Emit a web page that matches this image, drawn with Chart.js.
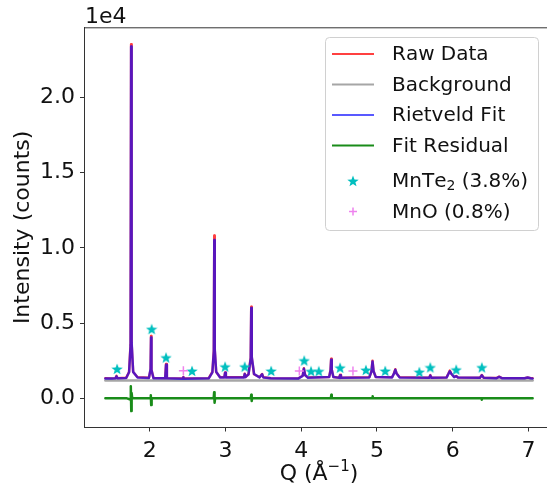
<!DOCTYPE html>
<html>
<head>
<meta charset="utf-8">
<script src="https://cdn.jsdelivr.net/npm/chart.js@4.4.1/dist/chart.umd.min.js"></script>
<style>
    html, body { margin: 0; padding: 0; background: #ffffff; overflow: hidden; }
    #wrap { width: 560px; height: 486px; }
</style>
</head>
<body>
<div id="wrap"><canvas id="xrd" width="560" height="486"></canvas></div>
<script>
// ============================================
// POWDER PATTERN + RIETVELD REFINEMENT PLOT
// ============================================

// Q grid (1/Angstrom) shared by the raw data and the fit
const qGrid = [
    1.415, 1.50, 1.548, 1.562, 1.576, 1.69, 1.728, 1.748, 1.755, 1.762,
    1.782, 1.84, 1.99, 2.012, 2.018, 2.024, 2.05, 2.205, 2.216, 2.227,
    2.436, 2.445, 2.454, 2.78, 2.828, 2.847, 2.853, 2.859, 2.878, 2.93,
    2.986, 2.996, 3.006, 3.245, 3.255, 3.265, 3.305, 3.334, 3.341, 3.348,
    3.378, 3.45, 3.484, 3.50, 3.60, 3.96, 4.02, 4.036, 4.052, 4.09,
    4.37, 4.388, 4.396, 4.404, 4.425, 4.503, 4.514, 4.525, 4.90, 4.928,
    4.942, 4.956, 4.985, 5.20, 5.225, 5.243, 5.26, 5.30, 5.69, 5.705,
    5.72, 5.92, 5.945, 5.962, 5.98, 6.02, 6.047, 6.07, 6.36, 6.385,
    6.41, 6.58, 6.614, 6.65, 6.95, 6.99, 7.03, 7.056
];

// measured intensity (counts)
const rawCounts = [
    1330, 1320, 1340, 1490, 1340, 1360, 1750, 3600, 23550, 3600,
    1750, 1400, 1360, 1900, 4150, 1900, 1350, 1340, 2280, 1340,
    1310, 1420, 1310, 1340, 1750, 3200, 10820, 3200, 1750, 1400,
    1400, 1720, 1400, 1400, 1640, 1420, 1600, 2700, 6090, 2700,
    1600, 1400, 1620, 1400, 1340, 1320, 1500, 2000, 1550, 1380,
    1420, 1900, 2630, 1900, 1420, 1370, 1560, 1370, 1400, 1800,
    2500, 1800, 1420, 1400, 1650, 1930, 1650, 1400, 1370, 1540,
    1370, 1390, 1650, 1840, 1650, 1420, 1480, 1390, 1370, 1550,
    1370, 1350, 1440, 1350, 1340, 1390, 1340, 1330
];

// calculated Rietveld profile (counts)
const fitCounts = [
    1320, 1315, 1330, 1460, 1330, 1350, 1730, 3500, 23400, 3700,
    1760, 1390, 1350, 1950, 4050, 1880, 1340, 1330, 2230, 1330,
    1305, 1400, 1305, 1330, 1730, 3100, 10530, 3300, 1770, 1390,
    1390, 1700, 1390, 1390, 1620, 1410, 1590, 2650, 6000, 2750,
    1620, 1390, 1600, 1390, 1330, 1310, 1490, 1970, 1540, 1370,
    1410, 1850, 2560, 1900, 1420, 1360, 1540, 1360, 1390, 1780,
    2450, 1800, 1410, 1390, 1640, 1900, 1650, 1390, 1360, 1520,
    1360, 1380, 1630, 1800, 1650, 1410, 1470, 1380, 1360, 1530,
    1360, 1340, 1430, 1340, 1330, 1380, 1330, 1320
];

// refined background
const backgroundQ = [1.415, 7.056];
const backgroundCounts = [1190, 1190];

// observed minus calculated
const residualQ = [
    1.415, 1.70, 1.745, 1.751, 1.757, 1.762, 1.77, 2.01, 2.015, 2.02,
    2.026, 2.845, 2.851, 2.857, 2.864, 3.335, 3.341, 3.347, 3.353, 4.392,
    4.398, 4.404, 4.938, 4.944, 4.95, 6.379, 6.385, 6.391, 7.056
];
const residualCounts = [
    0, 0, -80, 800, -850, 350, 0, 0, 200, -450,
    0, 0, 400, -290, 0, 0, 240, -180, 0, 0,
    240, 0, 0, 130, 0, 0, -90, 0, 0
];

// reflection markers
const mnte2Q = [1.57, 2.026, 2.216, 2.559, 2.996, 3.255, 3.604, 4.04, 4.13,
    4.233, 4.514, 4.855, 5.11, 5.56, 5.705, 6.047, 6.385];
const mnte2Y = [1950, 4600, 2710, 1820, 2100, 2100, 1820, 2510, 1800,
    1800, 2030, 1880, 1820, 1750, 2050, 1900, 2050];
const mnoQ = [2.445, 3.976, 4.684];
const mnoY = [1830, 1820, 1810];

// axis ticks
const xTickValues = [2, 3, 4, 5, 6, 7];
const yTickValues = [0, 5000, 10000, 15000, 20000];

const FONT = 'DejaVu Sans';
const TEXT = '#111111';

function pairs(xs, ys) {
    return xs.map((x, i) => ({ x: x, y: ys[i] }));
}

// filled five-point star used as point style
function makeStar(size, color) {
    const c = document.createElement('canvas');
    c.width = size;
    c.height = size;
    const g = c.getContext('2d');
    const r1 = size / 2, r2 = size / 2 * 0.42;
    g.beginPath();
    for (let i = 0; i < 10; i++) {
        const r = i % 2 === 0 ? r1 : r2;
        const a = -Math.PI / 2 + i * Math.PI / 5;
        const px = size / 2 + r * Math.cos(a);
        const py = size / 2 + 0.5 + r * Math.sin(a);
        if (i === 0) g.moveTo(px, py); else g.lineTo(px, py);
    }
    g.closePath();
    g.fillStyle = color;
    g.fill();
    return c;
}

const starImg = makeStar(12, '#00bfbf');

// draws text, turning unicode subscript digits into small lowered digits
function drawRich(ctx, str, x, y, size) {
    const subs = '₀₁₂₃₄₅₆₇₈₉';
    let cx = x;
    for (const ch of str) {
        const k = subs.indexOf(ch);
        if (k >= 0) {
            ctx.font = (size * 0.7) + 'px ' + FONT;
            ctx.fillText(String(k), cx, y + size * 0.22);
            cx += ctx.measureText(String(k)).width;
        } else {
            ctx.font = size + 'px ' + FONT;
            ctx.fillText(ch, cx, y);
            cx += ctx.measureText(ch).width;
        }
    }
}

// frame top, offset text, axis titles and the boxed legend
const decorations = {
    id: 'decorations',
    afterDraw(chart) {
        const ctx = chart.ctx;
        const area = chart.chartArea;
        ctx.save();

        ctx.strokeStyle = '#333333';
        ctx.lineWidth = 1;
        ctx.beginPath();
        ctx.moveTo(area.left, area.top + 0.5);
        ctx.lineTo(area.right, area.top + 0.5);
        ctx.moveTo(area.right - 0.5, area.top);
        ctx.lineTo(area.right - 0.5, area.bottom);
        ctx.stroke();

        ctx.fillStyle = TEXT;
        ctx.textBaseline = 'alphabetic';
        ctx.textAlign = 'left';
        ctx.font = '22px ' + FONT;
        ctx.fillText('1e4', 85, 23);

        // x title: Q (Å^-1)
        const part1 = 'Q (Å', sup = '−1', part2 = ')';
        ctx.font = '22px ' + FONT;
        const w1 = ctx.measureText(part1).width;
        const w3 = ctx.measureText(part2).width;
        ctx.font = '15px ' + FONT;
        const w2 = ctx.measureText(sup).width;
        const cx = (area.left + area.right) / 2;
        let x0 = cx - (w1 + w2 + w3) / 2;
        const base = 480;
        ctx.font = '22px ' + FONT;
        ctx.fillText(part1, x0, base);
        ctx.font = '15px ' + FONT;
        ctx.fillText(sup, x0 + w1, base - 9);
        ctx.font = '22px ' + FONT;
        ctx.fillText(part2, x0 + w1 + w2, base);

        // y title
        ctx.save();
        ctx.translate(23, (area.top + area.bottom) / 2);
        ctx.rotate(-Math.PI / 2);
        ctx.textAlign = 'center';
        ctx.textBaseline = 'middle';
        ctx.font = '22px ' + FONT;
        ctx.fillText('Intensity (counts)', 0, 0);
        ctx.restore();

        // legend box
        const bx = 325, by = 37, bw = 213, bh = 193;
        ctx.beginPath();
        ctx.roundRect(bx + 0.5, by + 0.5, bw, bh, 4);
        ctx.fillStyle = 'rgba(255,255,255,0.8)';
        ctx.fill();
        ctx.strokeStyle = '#d0d0d0';
        ctx.lineWidth = 1;
        ctx.stroke();

        const rows = [54, 84.5, 115, 145.5, 181, 211.5];
        chart.data.datasets.forEach((ds, i) => {
            const y = rows[i];
            if (ds.showLine === false) {
                if (ds.pointStyle === 'cross') {
                    ctx.strokeStyle = ds.borderColor;
                    ctx.lineWidth = 1.5;
                    ctx.beginPath();
                    ctx.moveTo(353 - 4, y);
                    ctx.lineTo(353 + 4, y);
                    ctx.moveTo(353, y - 4);
                    ctx.lineTo(353, y + 4);
                    ctx.stroke();
                } else {
                    ctx.drawImage(ds.pointStyle, 353 - 6, y - 6);
                }
            } else {
                ctx.strokeStyle = ds.borderColor;
                ctx.lineWidth = 2;
                ctx.beginPath();
                ctx.moveTo(332, y);
                ctx.lineTo(374, y);
                ctx.stroke();
            }
            ctx.fillStyle = TEXT;
            ctx.textBaseline = 'middle';
            drawRich(ctx, ds.label, 392, y + 1, 20);
        });

        ctx.restore();
    }
};

new Chart(document.getElementById('xrd'), {
    type: 'line',
    data: {
        datasets: [
            {
                label: 'Raw Data',
                data: pairs(qGrid, rawCounts),
                borderColor: 'rgba(255, 0, 0, 0.75)',
                borderWidth: 2.5,
                pointRadius: 0,
                order: 5
            },
            {
                label: 'Background',
                data: pairs(backgroundQ, backgroundCounts),
                borderColor: 'rgba(128, 128, 128, 0.7)',
                borderWidth: 2.5,
                pointRadius: 0,
                order: 4
            },
            {
                label: 'Rietveld Fit',
                data: pairs(qGrid, fitCounts),
                borderColor: 'rgba(0, 0, 255, 0.65)',
                borderWidth: 2.5,
                pointRadius: 0,
                order: 3
            },
            {
                label: 'Fit Residual',
                data: pairs(residualQ, residualCounts),
                borderColor: 'rgba(0, 128, 0, 0.9)',
                borderWidth: 2.5,
                pointRadius: 0,
                order: 2
            },
            {
                label: 'MnTe₂ (3.8%)',
                data: pairs(mnte2Q, mnte2Y),
                showLine: false,
                pointStyle: starImg,
                borderColor: '#00bfbf',
                backgroundColor: '#00bfbf',
                order: 1
            },
            {
                label: 'MnO (0.8%)',
                data: pairs(mnoQ, mnoY),
                showLine: false,
                pointStyle: 'cross',
                pointRadius: 4.5,
                pointBorderWidth: 1.5,
                borderColor: '#ee82ee',
                backgroundColor: '#ee82ee',
                order: 0
            }
        ]
    },
    options: {
        responsive: false,
        animation: false,
        devicePixelRatio: 1,
        layout: { padding: { top: 27.3, right: 6, left: 0, bottom: 0 } },
        elements: {
            line: { tension: 0, borderJoinStyle: 'round', borderCapStyle: 'round' }
        },
        plugins: {
            legend: { display: false },
            tooltip: { enabled: false }
        },
        scales: {
            x: {
                type: 'linear',
                min: 1.133,
                max: 7.338,
                afterBuildTicks: (axis) => { axis.ticks = xTickValues.map(v => ({ value: v })); },
                afterFit: (axis) => { axis.height = 58.5; },
                border: { display: true, color: '#333333', width: 1 },
                grid: { drawOnChartArea: false, drawTicks: true, tickLength: 4, color: '#333333' },
                ticks: {
                    color: TEXT,
                    padding: 7,
                    maxRotation: 0,
                    font: { family: FONT, size: 22 },
                    callback: (v) => String(v)
                }
            },
            y: {
                type: 'linear',
                min: -1940,
                max: 24670,
                afterBuildTicks: (axis) => { axis.ticks = yTickValues.map(v => ({ value: v })); },
                afterFit: (axis) => { axis.width = 84; },
                border: { display: true, color: '#333333', width: 1 },
                grid: { drawOnChartArea: false, drawTicks: true, tickLength: 4, color: '#333333' },
                ticks: {
                    color: TEXT,
                    padding: 5,
                    font: { family: FONT, size: 22 },
                    callback: (v) => (v / 1e4).toFixed(1)
                }
            }
        }
    },
    plugins: [decorations]
});
</script>
</body>
</html>
